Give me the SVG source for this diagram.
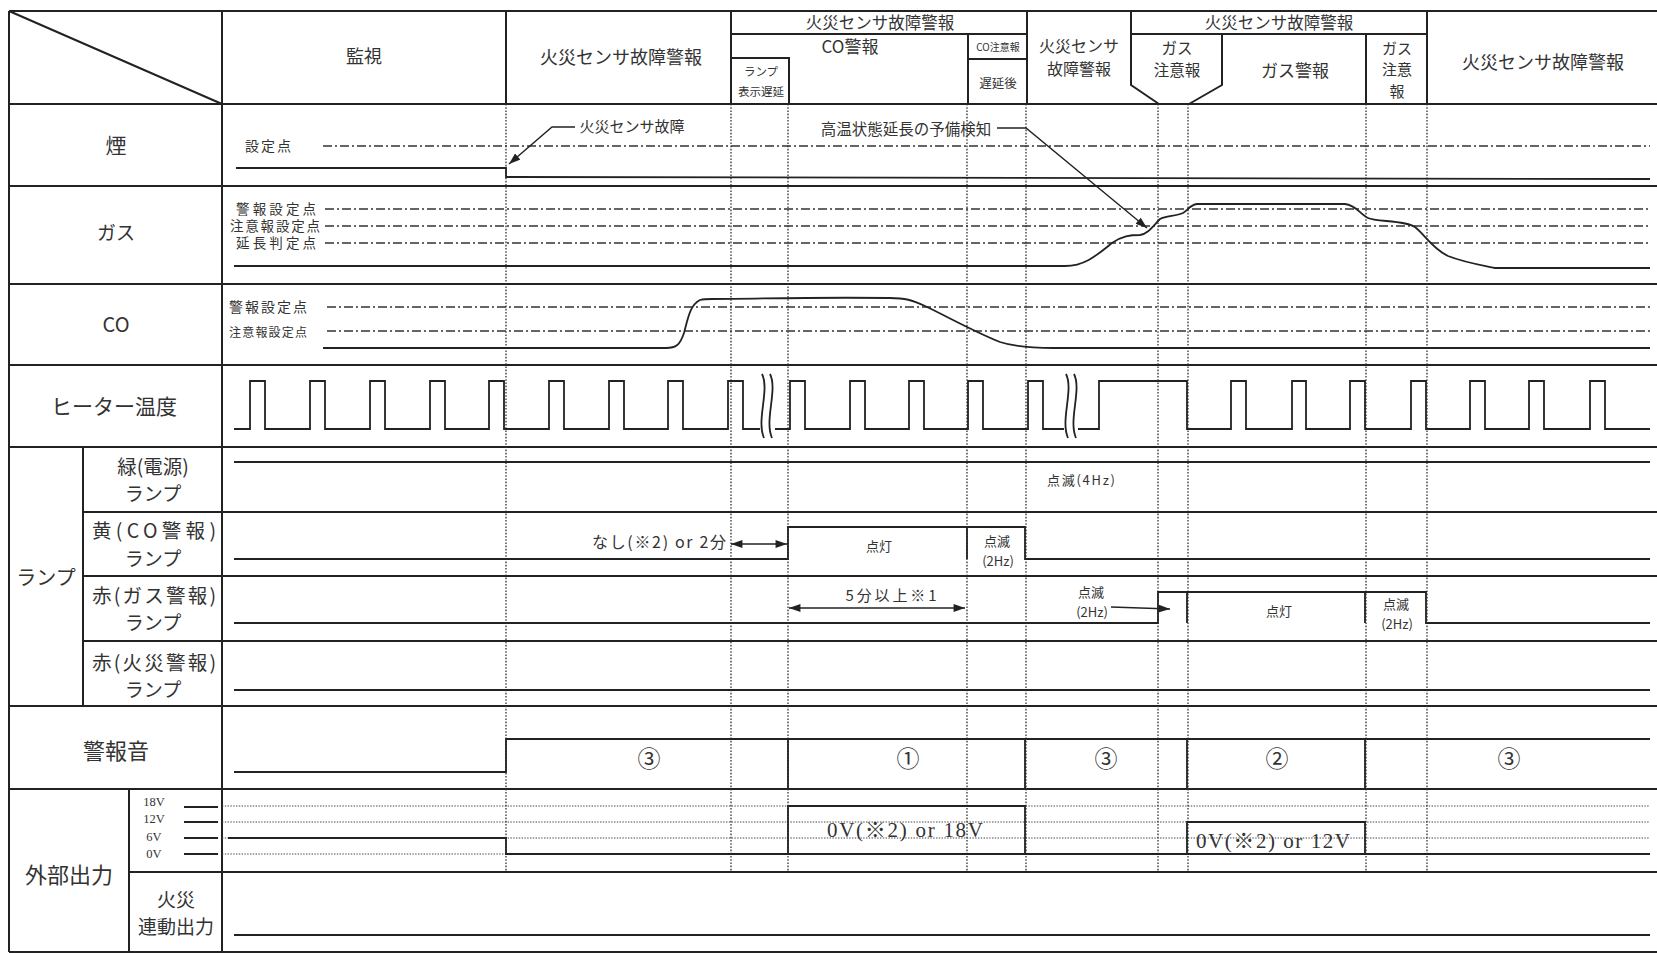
<svg xmlns="http://www.w3.org/2000/svg" width="1657" height="953" viewBox="0 0 1657 953">
<style>
.g{stroke:#222;stroke-width:2;fill:none}
.s{stroke:#222;stroke-width:1.8;fill:none}
.t{stroke:#333;stroke-width:1.3;fill:none;stroke-dasharray:1.6 1.6}
.dd{stroke:#333;stroke-width:1.3;fill:none;stroke-dasharray:9 3 2 3}
.vd{stroke:#444;stroke-width:1.2;fill:none;stroke-dasharray:1.4 1.4}
.a{stroke:#222;stroke-width:1.4;fill:none}
text{font-family:'Noto Sans CJK JP',sans-serif;fill:#333;text-anchor:middle;dominant-baseline:central}
.sf{font-family:'Liberation Serif','Noto Sans CJK JP',serif}
</style>
<defs>
<marker id="ah" viewBox="0 0 10 7" refX="10" refY="3.5" markerWidth="12" markerHeight="8" markerUnits="userSpaceOnUse" orient="auto-start-reverse"><path d="M0,0 L10,3.5 L0,7 z" fill="#222"/></marker>
</defs>
<rect width="1657" height="953" fill="#fff"/>

<g id="grid">
<path class="g" d="M9,11 H1657 M9,104 H1657 M9,186 H1657 M9,284 H1657 M9,365 H1657 M9,447 H1657 M83,512 H1657 M83,576 H1657 M83,641 H1657 M9,706 H1657 M9,789 H1657 M129,872 H1657 M9,952 H1657"/>
<path class="g" d="M9,11 V952 M222,11 V952 M83,447 V706 M129,789 V952 M9,11 L222,104"/>
<path class="g" d="M506,11 V104 M731,11 V104 M1027,11 V104 M1427,11 V104 M731,34 H1027 M1131,34 H1427 M968,34 V104 M968,59 H1027 M731,58 H789 V104 M1131,11 V85 L1159,104 M1222,34 V85 L1189,104 M1366,34 V104"/>
</g>

<g id="header-labels">
<text x="364" y="55" font-size="18">監視</text>
<text x="621" y="56" font-size="18">火災センサ故障警報</text>
<text x="880" y="22" font-size="16.5">火災センサ故障警報</text>
<text x="850" y="45" font-size="17">CO警報</text>
<text x="998" y="46" font-size="10">CO注意報</text>
<text x="998" y="82" font-size="12.5">遅延後</text>
<text x="761" y="71" font-size="11.5">ランプ</text>
<text x="761" y="91" font-size="11.5">表示遅延</text>
<text x="1079" y="45" font-size="16">火災センサ</text>
<text x="1079" y="68" font-size="16">故障警報</text>
<text x="1279" y="22" font-size="16.5">火災センサ故障警報</text>
<text x="1177" y="47" font-size="15.5">ガス</text>
<text x="1177" y="69" font-size="15.5">注意報</text>
<text x="1295" y="69" font-size="17">ガス警報</text>
<text x="1397" y="47" font-size="15">ガス</text>
<text x="1397" y="68" font-size="15">注意</text>
<text x="1397" y="90" font-size="15">報</text>
<text x="1543" y="61" font-size="18">火災センサ故障警報</text>
</g>

<g id="row-labels">
<text x="116" y="144" font-size="21">煙</text>
<text x="116" y="231" font-size="19">ガス</text>
<text x="116" y="323" font-size="20">CO</text>
<text x="114" y="405" font-size="21">ヒーター温度</text>
<text x="46" y="576" font-size="20">ランプ</text>
<text x="153" y="465" font-size="19.5">緑(電源)</text>
<text x="153" y="492" font-size="19">ランプ</text>
<text x="154" y="529" font-size="19.5" textLength="124">黄(CO警報)</text>
<text x="153" y="557" font-size="19">ランプ</text>
<text x="154" y="594" font-size="19.5" textLength="124">赤(ガス警報)</text>
<text x="153" y="621" font-size="19">ランプ</text>
<text x="154" y="661" font-size="19.5" textLength="124">赤(火災警報)</text>
<text x="153" y="688" font-size="19">ランプ</text>
<text x="116" y="749" font-size="22">警報音</text>
<text x="69" y="873" font-size="22">外部出力</text>
<text x="176" y="898" font-size="19">火災</text>
<text x="176" y="925" font-size="19">連動出力</text>
<text class="sf" x="154" y="802" font-size="12.5">18V</text>
<text class="sf" x="154" y="819" font-size="12.5">12V</text>
<text class="sf" x="154" y="837" font-size="12.5">6V</text>
<text class="sf" x="154" y="854" font-size="12.5">0V</text>
<path class="s" d="M184,807 H218 M184,822 H218 M184,838 H218 M184,854 H218"/>
</g>

<g id="setpoints">
<text x="268" y="145" font-size="14" textLength="46">設定点</text>
<text x="276" y="208" font-size="13.5" textLength="80">警報設定点</text>
<text x="275" y="225" font-size="13.5" textLength="90">注意報設定点</text>
<text x="276" y="242" font-size="13.5" textLength="80">延長判定点</text>
<text x="268" y="306" font-size="14" textLength="78">警報設定点</text>
<text x="268" y="331" font-size="12" textLength="78">注意報設定点</text>
<path class="dd" d="M323,146 H1650 M325,209 H1650 M325,226 H1650 M325,243 H1650 M327,307 H1650 M327,331 H1650"/>
<path class="vd" d="M222,806 H1650 M222,822 H1650 M222,838 H1650 M222,854 H1650"/>
</g>

<g id="time-lines">
<path class="t" d="M506,104 V872 M731,104 V872 M788,104 V872 M967,104 V872 M1026,104 V872 M1158,104 V872 M1188,104 V872 M1366,104 V872 M1427,104 V872"/>
</g>

<g id="signals">
<path class="s" d="M236,168 H506 V177 L1650,179"/>
<path class="s" d="M234,266 H1065 C1085,266 1097,255 1112,243 C1122,236 1130,235 1140,235 C1148,234 1153,226 1160,219 C1166,216 1176,216 1183,213 C1188,210 1190,205 1197,204 H1345 C1356,205 1360,214 1368,218 C1376,222 1405,220 1415,227 C1425,235 1433,249 1448,256 C1463,262 1480,265 1495,268 H1650"/>
<path class="s" d="M323,348 H666 C676,348 680,345 684,333 C688,318 690,305 700,300 C704,299 708,299 712,299 C760,299 800,297 890,298 C905,298 912,300 925,306 C950,318 975,332 1000,342 C1012,346 1025,348 1054,348 H1650"/>
<path class="s" d="M234,429 H250 V381 H265 V429 H310 V381 H325 V429 H370 V381 H385 V429 H430 V381 H445 V429 H489 V381 H504 V429 H549 V381 H564 V429 H609 V381 H624 V429 H668 V381 H683 V429 H728 V381 H743 V429 H760"/>
<path class="s" d="M775,429 H790 V381 H805 V429 H850 V381 H865 V429 H909 V381 H924 V429 H968 V381 H983 V429 H1028 V381 H1043 V429 H1064"/>
<path class="s" d="M1078,429 H1099 V381 H1187 V429 H1231 V381 H1246 V429 H1292 V381 H1306 V429 H1350 V381 H1365 V429 H1411 V381 H1426 V429 H1470 V381 H1485 V429 H1529 V381 H1544 V429 H1590 V381 H1605 V429 H1650"/>
<path class="s" d="M762,374 C770,390 756,420 764,438 M770,374 C778,390 764,420 772,438 M1066,374 C1074,390 1060,420 1068,438 M1074,374 C1082,390 1068,420 1076,438"/>
<path class="s" d="M234,462 H1650"/>
<path class="s" d="M234,559 H788 V527 H1025 V559 H1650 M967,527 V559"/>
<path class="s" d="M234,623 H1158 V592 H1426 V623 H1650 M1187,592 V623 M1365,592 V623"/>
<path class="s" d="M234,690 H1650"/>
<path class="s" d="M234,772 H506 V739 H1650 M788,739 V789 M1025,739 V789 M1187,739 V789 M1365,739 V789"/>
<path class="s" d="M228,838 H506 V854 H1650 M788,854 V806 H1025 V854 M1187,854 V822 H1365 V854"/>
<path class="s" d="M234,935 H1650"/>
</g>

<g id="annotations">
<polyline class="a" points="575,127 552,127 509,164" marker-end="url(#ah)"/>
<text x="632" y="125" font-size="15">火災センサ故障</text>
<polyline class="a" points="997,128 1026,128 1147,228" marker-end="url(#ah)"/>
<text x="906" y="128" font-size="15.5">高温状態延長の予備検知</text>
<text x="1081" y="479" font-size="13" textLength="68">点滅(4Hz)</text>
<text x="659" y="541" font-size="16" textLength="134">なし(※2) or 2分</text>
<line class="a" x1="731" y1="544" x2="787" y2="544" marker-start="url(#ah)" marker-end="url(#ah)"/>
<text x="879" y="545" font-size="13">点灯</text>
<text x="997" y="540" font-size="13">点滅</text>
<text x="998" y="560" font-size="13">(2Hz)</text>
<text x="891" y="594" font-size="15" textLength="91">5分以上※1</text>
<line class="a" x1="789" y1="608" x2="965" y2="608" marker-start="url(#ah)" marker-end="url(#ah)"/>
<text x="1091" y="591" font-size="13">点滅</text>
<text x="1092" y="611" font-size="13">(2Hz)</text>
<line class="a" x1="1111" y1="607" x2="1170" y2="609" marker-end="url(#ah)"/>
<text x="1279" y="610" font-size="13">点灯</text>
<text x="1396" y="603" font-size="13">点滅</text>
<text x="1397" y="623" font-size="13">(2Hz)</text>
<text x="649" y="757" font-size="23">③</text>
<text x="908" y="757" font-size="23">①</text>
<text x="1106" y="757" font-size="23">③</text>
<text x="1277" y="757" font-size="23">②</text>
<text x="1509" y="757" font-size="23">③</text>
<text class="sf" x="905" y="830" font-size="21" textLength="156">0V(※2) or 18V</text>
<text class="sf" x="1273" y="841" font-size="21" textLength="154">0V(※2) or 12V</text>
</g>
</svg>
